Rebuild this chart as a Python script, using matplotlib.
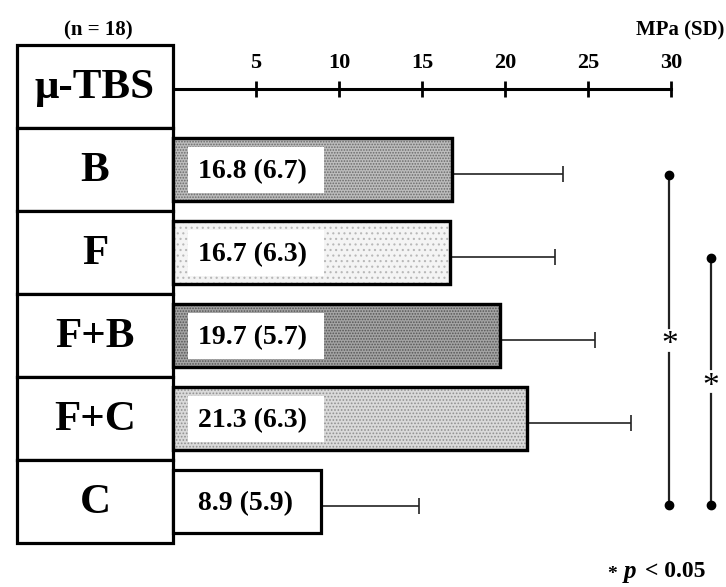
import numpy as np
import matplotlib.pyplot as plt
from matplotlib.patches import Rectangle

plt.rcParams['font.family'] = ['Liberation Serif', 'DejaVu Serif']
plt.rcParams['font.weight'] = 'bold'
plt.rcParams['hatch.linewidth'] = 0.8

# datos
grupos = ['B', 'F', 'F+B', 'F+C', 'C']
media = [16.8, 16.7, 19.7, 21.3, 8.9]
de = [6.7, 6.3, 5.7, 6.3, 5.9]
ticks = [5, 10, 15, 20, 25, 30]
# pares con diferencia significativa (indices de grupos)
pares = [(0, 4), (1, 4)]

# estilos de relleno de cada barra
rellenos = ['#bdbdbd', '#f4f4f4', '#a4a4a4', '#dadada', 'white']
tramas = ['......', '...', '......', '.....', None]
color_trama = ['#6a6a6a', '#b8b8b8', '#555555', '#909090', 'white']

fig = plt.figure(figsize=(7.26, 5.87), dpi=100)
ax = fig.add_axes([0, 0, 1, 1])
ax.set_xlim(-10.42, 33.31)
ax.set_ylim(6.53, -0.542)
ax.axis('off')

# cajas con nombres de grupos
nombres = ['\u03bc-TBS'] + grupos
for k, nom in enumerate(nombres):
    ax.add_patch(Rectangle((-9.4, k), 9.4, 1, facecolor='white', edgecolor='black', lw=2.3, zorder=3))
    ax.text(-4.7, k + 0.52, nom, ha='center', va='center', fontsize=31, fontweight='bold', zorder=4)

# eje de MPa
ax.plot([0, 30], [0.53, 0.53], color='black', lw=2.2, zorder=2)
ax.plot(ticks, [0.53] * len(ticks), ls='none', marker='|', ms=11, mew=2, color='black')
for t in ticks:
    ax.text(t, 0.22, str(t), ha='center', va='center', fontsize=16, fontweight='bold')
ax.text(-4.5, -0.17, '(n = 18)', ha='center', va='center', fontsize=15, fontweight='bold')
ax.text(33.2, -0.17, 'MPa (SD)', ha='right', va='center', fontsize=15, fontweight='bold')

# barras
y = np.arange(len(grupos)) + 1.5
for i in range(len(grupos)):
    ax.barh(y[i], media[i], height=0.75, left=0, color=rellenos[i], edgecolor='black',
            lw=2.3, zorder=3)
    if tramas[i]:
        ax.barh(y[i], media[i], height=0.75, left=0, color='none', edgecolor=color_trama[i],
                hatch=tramas[i], lw=0, zorder=3)
        ax.barh(y[i], media[i], height=0.75, left=0, color='none', edgecolor='black',
                lw=2.3, zorder=3)
        ax.add_patch(Rectangle((0.9, y[i] - 0.27), 8.2, 0.55, facecolor='white', edgecolor='none', zorder=4))
    ax.text(1.5, y[i] + 0.03, f'{media[i]} ({de[i]})', ha='left', va='center', fontsize=20,
            fontweight='bold', zorder=5)

ax.errorbar(media, y + 0.05, xerr=[np.zeros(len(de)), de], fmt='none', ecolor='#222222',
            elinewidth=1.2, capsize=5.5, capthick=1.2, zorder=2)

# significancia
xs = [29.9, 32.4]
for (a, b), xp in zip(pares, xs):
    y0, y1 = y[a] + 0.07, y[b] + 0.04
    ym = (y0 + y1) / 2
    ax.plot([xp, xp], [y0, ym - 0.15], color='#222222', lw=1.6)
    ax.plot([xp, xp], [ym + 0.15, y1], color='#222222', lw=1.6)
    ax.plot([xp, xp], [y0, y1], ls='none', marker='o', ms=6, color='black')
    ax.text(xp, ym + 0.06, '*', ha='center', va='center', fontsize=24, fontweight='normal')

# nota al pie
fig.text(0.836, 0.022, '*', ha='left', va='center', fontsize=14)
fig.text(0.859, 0.026, 'p', ha='left', va='center', fontsize=18, fontstyle='italic', fontweight='bold')
fig.text(0.888, 0.026, '< 0.05', ha='left', va='center', fontsize=17, fontweight='bold')

fig.savefig('out.png', dpi=100)
